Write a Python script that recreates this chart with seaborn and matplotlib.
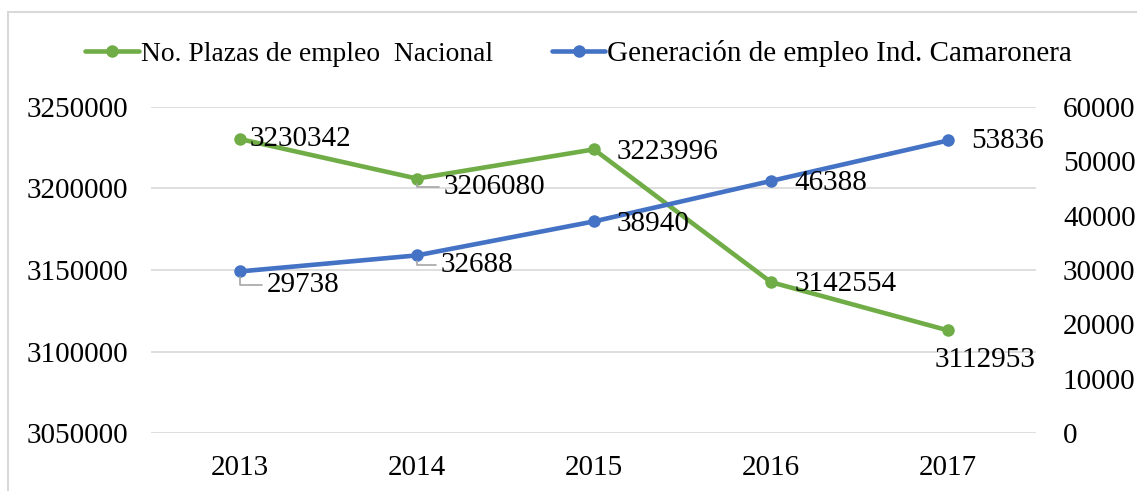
import pandas as pd
import matplotlib
matplotlib.use("Agg")
import matplotlib.pyplot as plt
import matplotlib.patches as mpatches
import matplotlib.ticker as mticker
import seaborn as sns

# datos
anios = [2013, 2014, 2015, 2016, 2017]
plazas_nacional = [3230342, 3206080, 3223996, 3142554, 3112953]
empleo_camaronera = [29738, 32688, 38940, 46388, 53836]
serie_nacional = "No. Plazas de empleo  Nacional"
serie_camaronera = "Generación de empleo Ind. Camaronera"

verde = "#70AD47"
azul = "#4472C4"
gris = "#d9d9d9"

sns.set_style("white")
plt.rcParams["font.family"] = ["Liberation Serif", "DejaVu Serif"]
plt.rcParams["text.color"] = "black"
plt.rcParams["xtick.color"] = "black"
plt.rcParams["ytick.color"] = "black"
fs = 21

df_nac = pd.DataFrame({"anio": anios, "valor": plazas_nacional})
df_cam = pd.DataFrame({"anio": anios, "valor": empleo_camaronera})

fig = plt.figure(figsize=(11.37, 4.91), dpi=100)
ax = fig.add_axes([0.1332, 0.1181, 0.7784, 0.664])
ax2 = ax.twinx()

sns.lineplot(data=df_nac, x="anio", y="valor", ax=ax, color=verde, lw=3.3,
             marker="o", markersize=9, markeredgewidth=0, label=serie_nacional, legend=False)
sns.lineplot(data=df_cam, x="anio", y="valor", ax=ax2, color=azul, lw=3.3,
             marker="o", markersize=9, markeredgewidth=0, label=serie_camaronera, legend=False)

ax.set_xlim(2012.5, 2017.5)
ax.set_ylim(3050000, 3250000)
ax2.set_ylim(0, 60000)
ax.set_yticks(range(3050000, 3250001, 50000))
ax2.set_yticks(range(0, 60001, 10000))
ax.yaxis.set_major_formatter(mticker.FormatStrFormatter("%d"))
ax2.yaxis.set_major_formatter(mticker.FormatStrFormatter("%d"))
ax.set_xticks(anios)
ax.set_xticklabels([str(a) for a in anios])

ax.grid(axis="y", color=gris, lw=1.2)
ax.set_axisbelow(True)
for a in (ax, ax2):
    for s in a.spines.values():
        s.set_visible(False)
    a.set_xlabel("")
    a.set_ylabel("")
ax.tick_params(axis="y", length=0, pad=17, labelsize=fs)
ax.tick_params(axis="x", length=0, pad=16, labelsize=fs)
ax2.tick_params(axis="y", length=0, pad=19, labelsize=fs)

# etiquetas de datos (desplazamiento en puntos)
off_nac = [(7, 0), (19.5, -6), (16.5, -2), (17, -1.5), (-9.5, -21)]
off_cam = [(19.5, -10), (17, -7), (16.5, -1.5), (17, -1.5), (16.5, -0.7)]
guia = dict(arrowstyle="-", color="#a6a6a6", lw=1.2, shrinkA=1, shrinkB=4,
            connectionstyle="angle,angleA=0,angleB=90,rad=0", relpos=(0, 0.5))

for i, (x, y) in enumerate(zip(anios, plazas_nacional)):
    dx, dy = off_nac[i]
    ax2.annotate(str(y), (x, y), xytext=(dx, dy), textcoords="offset points",
                 xycoords=ax.transData, ha="left", va="center", fontsize=fs,
                 arrowprops=guia if i == 1 else None)
for i, (x, y) in enumerate(zip(anios, empleo_camaronera)):
    dx, dy = off_cam[i]
    ax2.annotate(str(y), (x, y), xytext=(dx, dy), textcoords="offset points",
                 ha="left", va="center", fontsize=fs,
                 arrowprops=guia if i in (0, 1) else None)

h1, l1 = ax.get_legend_handles_labels()
h2, l2 = ax2.get_legend_handles_labels()
leg = fig.legend(h1 + h2, l1 + l2, loc="center left", bbox_to_anchor=(85 / 1137, 0.892),
                 ncol=2, frameon=False, fontsize=19.8, handlelength=1.95,
                 handletextpad=0.07, columnspacing=2.15, borderpad=0, borderaxespad=0)
leg.get_texts()[1].set_fontsize(fs)

# borde del grafico
fig.patches.append(mpatches.Rectangle((8 / 1137, -0.1), 1.2, 1 - 12 / 491 + 0.1,
                                      transform=fig.transFigure, fill=False,
                                      edgecolor=gris, lw=1.5))

fig.savefig("out.png", dpi=100)
